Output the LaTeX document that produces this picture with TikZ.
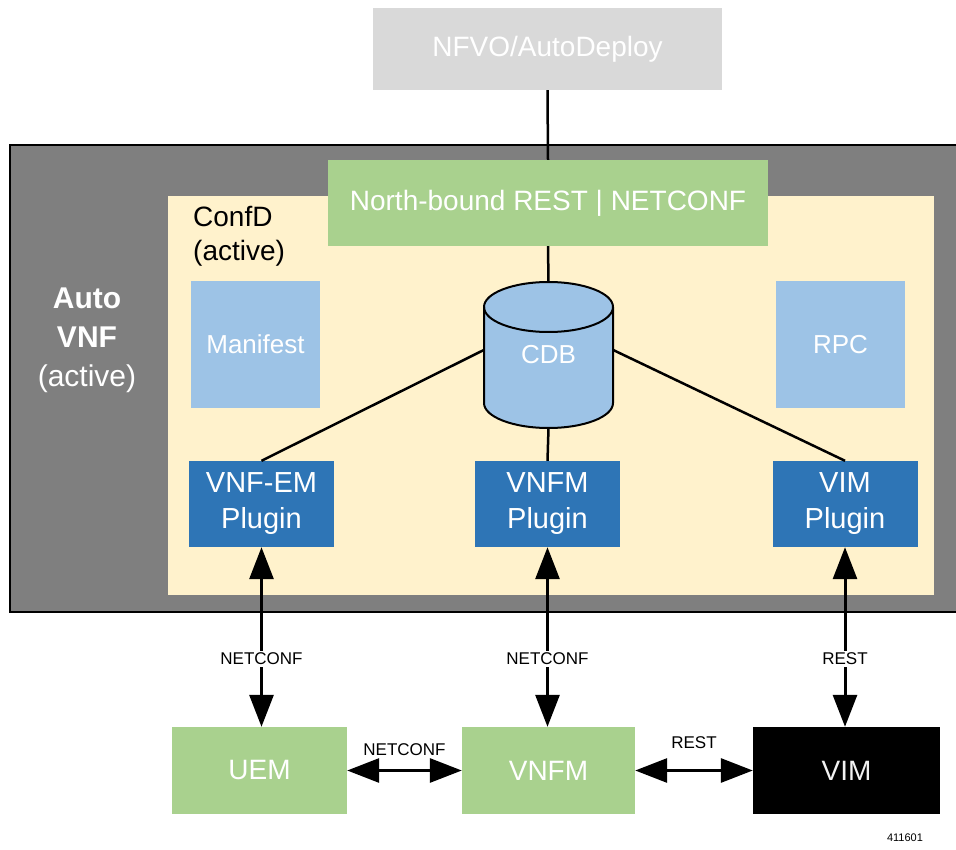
\documentclass[tikz,border=0pt]{standalone}
\usepackage{fontspec}
\setmainfont{Liberation Sans}
\usetikzlibrary{arrows.meta}

\definecolor{nfvogray}{HTML}{D9D9D9}
\definecolor{avfgray}{HTML}{7F7F7F}
\definecolor{confcream}{HTML}{FFF2CC}
\definecolor{ifgreen}{HTML}{A9D18E}
\definecolor{dblue}{HTML}{9DC3E6}
\definecolor{plugblue}{HTML}{2E75B6}

\begin{document}
\begin{tikzpicture}[x=1pt,y=-1pt,
  box/.style={rectangle, inner sep=0pt, text=white, align=center, font=\fontsize{28}{34}\selectfont},
  greenbox/.style={box, fill=ifgreen},
  lightbox/.style={box, fill=dblue, minimum width=129pt, minimum height=127pt, font=\fontsize{26}{30}\selectfont},
  plugbox/.style={box, fill=plugblue, minimum width=145pt, minimum height=86pt, font=\fontsize{29}{36}\selectfont},
  endbox/.style={box, minimum height=87pt},
  link/.style={line width=2.5pt},
  both/.style={line width=3pt, {Triangle[width=24pt,length=32pt]}-{Triangle[width=24pt,length=32pt]}},
  tag/.style={fill=white, inner sep=2pt, font=\fontsize{17}{20}\selectfont}]
\useasboundingbox (0,0) rectangle (956,850);
\fill [white] (0,0) rectangle (956,850);

\node [box, fill=nfvogray, minimum width=349pt, minimum height=82pt] (nfvo) at (547.5,49) {NFVO/AutoDeploy};

\draw [fill=avfgray, draw=black, line width=2pt] (10,145) rectangle (960,612);
\node [text=white, align=center, font=\fontsize{30}{39}\selectfont] (autovnf) at (87,340) {\textbf{Auto}\\\textbf{VNF}\\(active)};
\fill [confcream] (168,196) rectangle (934,595);
\node [anchor=north west, align=left, inner sep=0pt, font=\fontsize{28}{34}\selectfont] (confd) at (193,206) {ConfD\\(active)};

\node [greenbox, minimum width=440pt, minimum height=86pt] (nb) at (548,203) {North-bound REST | NETCONF};
\node [lightbox] (manifest) at (255.5,344.5) {Manifest};
\node [lightbox] (rpc) at (840.5,344.5) {RPC};

\fill [dblue] (484,307) -- (484,403) arc (180:0:64.5 and 25) -- (613,307) arc (0:-180:64.5 and 25) -- cycle;
\draw [line width=2pt] (484,307) -- (484,403) arc (180:0:64.5 and 25) -- (613,307) arc (0:-180:64.5 and 25) -- cycle;
\draw [line width=2pt] (484,307) arc (180:0:64.5 and 25);
\node [box, minimum width=129pt, minimum height=146pt, font=\fontsize{26}{30}\selectfont] (cdb) at (548.5,355) {CDB};

\node [plugbox] (emplug) at (261.5,504) {VNF-EM\\Plugin};
\node [plugbox] (vnfmplug) at (547.5,504) {VNFM\\Plugin};
\node [plugbox] (vimplug) at (845,504) {VIM\\Plugin};

\node [endbox, greenbox, minimum width=175pt] (uem) at (259.5,770.5) {UEM};
\node [endbox, greenbox, minimum width=173pt] (vnfm) at (548.5,770.5) {VNFM};
\node [endbox, fill=black, text=white!90!gray, minimum width=187pt] (vim) at (846.5,770.5) {VIM};

\draw [link] (nfvo.south) -- (nb.north);
\draw [link] (nb.south) -- (cdb.north);
\draw [link] (cdb.south) -- (vnfmplug.north);
\draw [link] ([yshift=5pt]cdb.west) -- (emplug.north);
\draw [link] ([yshift=5pt]cdb.east) -- (vimplug.north);

\draw [both] (emplug.south) -- node [tag, pos=0.62] {NETCONF} (emplug.south |- uem.north);
\draw [both] (vnfmplug.south) -- node [tag, pos=0.62] {NETCONF} (vnfmplug.south |- vnfm.north);
\draw [both] (vimplug.south) -- node [tag, pos=0.62] {REST} (vimplug.south |- vim.north);
\draw [both] (uem.east) -- node [tag, above=11pt, fill=none] {NETCONF} (vnfm.west);
\draw [both] (vnfm.east) -- node [tag, above=18pt, fill=none] {REST} (vim.west);

\node [font=\fontsize{11}{13}\selectfont] (figid) at (905,838) {411601};
\end{tikzpicture}
\end{document}
